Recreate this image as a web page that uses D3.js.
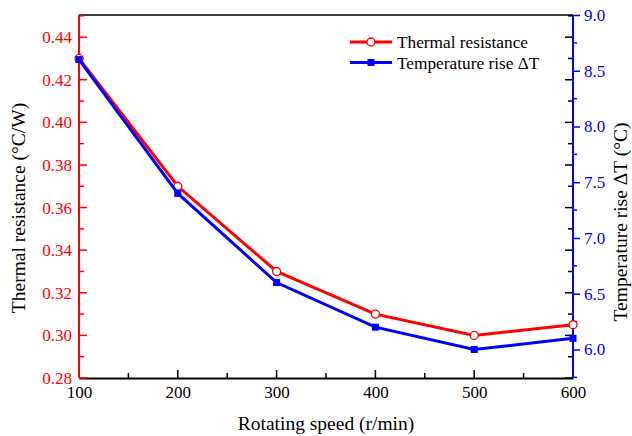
<!DOCTYPE html>
<html>
<head>
<meta charset="utf-8">
<script src="https://d3js.org/d3.v7.min.js"></script>
<style>
  body { margin: 0; background: #fff; }
  svg text { font-family: "Liberation Serif", "Times New Roman", serif; }
</style>
</head>
<body>
<svg id="chart" width="632" height="436"></svg>
<script>
const speeds = [100, 200, 300, 400, 500, 600];
const thermalResistance = [0.43, 0.37, 0.33, 0.31, 0.30, 0.305];
const tempRise = [8.6, 7.4, 6.6, 6.2, 6.0, 6.1];
const xTicks = [100, 200, 300, 400, 500, 600];
const leftTicks = [0.28, 0.30, 0.32, 0.34, 0.36, 0.38, 0.40, 0.42, 0.44];
const rightTicks = [6.0, 6.5, 7.0, 7.5, 8.0, 8.5, 9.0];

const margin = { left: 79, right: 59, top: 15, bottom: 58 };
const svg = d3.select('#chart');
const width = +svg.attr('width');
const height = +svg.attr('height');
const innerWidth = width - margin.left - margin.right;
const innerHeight = height - margin.top - margin.bottom;

const red = '#ff0000';
const blue = '#0000ff';

const x = d3.scaleLinear().domain([100, 600]).range([0, innerWidth]);
const yL = d3.scaleLinear().domain([0.28, 0.4504]).range([innerHeight, 0]);
const yR = d3.scaleLinear().domain([5.744, 9.0]).range([innerHeight, 0]);

const g = svg.append('g').attr('transform', `translate(${margin.left},${margin.top})`);

// frame top
g.append('line').attr('x1', 0).attr('x2', innerWidth).attr('y1', 0).attr('y2', 0)
  .attr('stroke', '#000').attr('stroke-width', 1.5);

// bottom axis, ticks inward
const minorX = d3.range(150, 600, 100);
const xAxisG = g.append('g').attr('transform', `translate(0,${innerHeight})`);
xAxisG.call(d3.axisBottom(x).tickValues(xTicks).tickSize(0).tickPadding(8).tickFormat(d3.format('d')));
xAxisG.select('.domain').attr('stroke', '#000').attr('stroke-width', 2);
xAxisG.selectAll('.tick text').attr('font-size', 17).attr('fill', '#000');
xAxisG.selectAll('.major').data(xTicks).enter().append('line')
  .attr('x1', d => x(d)).attr('x2', d => x(d)).attr('y1', 0).attr('y2', -8)
  .attr('stroke', '#000').attr('stroke-width', 1.5);
xAxisG.selectAll('.minor').data(minorX).enter().append('line')
  .attr('x1', d => x(d)).attr('x2', d => x(d)).attr('y1', 0).attr('y2', -5)
  .attr('stroke', '#000').attr('stroke-width', 1.5);

// right axis: mirrored black inward ticks from left scale, blue outward ticks
const leftMinor = d3.range(0.29, 0.45, 0.02);
const rightMinor = d3.range(5.75, 9.0, 0.5);
const rG = g.append('g').attr('transform', `translate(${innerWidth},0)`);
rG.selectAll('.mj').data(leftTicks).enter().append('line')
  .attr('x1', 0).attr('x2', -8).attr('y1', d => yL(d)).attr('y2', d => yL(d))
  .attr('stroke', '#000').attr('stroke-width', 1.5);
rG.selectAll('.mn').data(leftMinor).enter().append('line')
  .attr('x1', 0).attr('x2', -5).attr('y1', d => yL(d)).attr('y2', d => yL(d))
  .attr('stroke', '#000').attr('stroke-width', 1.5);
rG.call(d3.axisRight(yR).tickValues(rightTicks).tickSize(7).tickPadding(4).tickFormat(d3.format('.1f')));
rG.select('.domain').attr('stroke', blue).attr('stroke-width', 2).attr('d', `M0,0V${innerHeight}`);
rG.selectAll('.tick line').attr('stroke', blue).attr('stroke-width', 1.5);
rG.selectAll('.tick text').attr('font-size', 17).attr('fill', blue);
rG.selectAll('.rmn').data(rightMinor).enter().append('line')
  .attr('x1', 0).attr('x2', 4).attr('y1', d => yR(d)).attr('y2', d => yR(d))
  .attr('stroke', blue).attr('stroke-width', 1.5);

// left axis, red, ticks inward
const lG = g.append('g');
lG.call(d3.axisLeft(yL).tickValues(leftTicks).tickSize(0).tickPadding(7).tickFormat(d3.format('.2f')));
lG.select('.domain').attr('stroke', red).attr('stroke-width', 2).attr('d', `M0,0V${innerHeight}`);
lG.selectAll('.tick text').attr('font-size', 17).attr('fill', red);
lG.selectAll('.mj').data(leftTicks).enter().append('line')
  .attr('x1', 0).attr('x2', 8).attr('y1', d => yL(d)).attr('y2', d => yL(d))
  .attr('stroke', red).attr('stroke-width', 1.5);
lG.selectAll('.mn').data(leftMinor).enter().append('line')
  .attr('x1', 0).attr('x2', 5).attr('y1', d => yL(d)).attr('y2', d => yL(d))
  .attr('stroke', red).attr('stroke-width', 1.5);

// series
const redData = speeds.map((s, i) => [s, thermalResistance[i]]);
const blueData = speeds.map((s, i) => [s, tempRise[i]]);

g.append('path').datum(redData)
  .attr('fill', 'none').attr('stroke', red).attr('stroke-width', 3)
  .attr('d', d3.line().x(d => x(d[0])).y(d => yL(d[1])));
g.selectAll('.rc').data(redData).enter().append('circle')
  .attr('cx', d => x(d[0])).attr('cy', d => yL(d[1])).attr('r', 4)
  .attr('fill', '#fff').attr('stroke', red).attr('stroke-width', 1.3);

g.append('path').datum(blueData)
  .attr('fill', 'none').attr('stroke', blue).attr('stroke-width', 3)
  .attr('d', d3.line().x(d => x(d[0])).y(d => yR(d[1])));
g.selectAll('.bs').data(blueData).enter().append('rect')
  .attr('x', d => x(d[0]) - 3.5).attr('y', d => yR(d[1]) - 3.5)
  .attr('width', 7).attr('height', 7).attr('fill', blue);

// axis titles
svg.append('text').attr('x', margin.left + innerWidth / 2).attr('y', 430)
  .attr('text-anchor', 'middle').attr('font-size', 19.5).text('Rotating speed (r/min)');
svg.append('text').attr('transform', 'translate(25,208) rotate(-90)')
  .attr('text-anchor', 'middle').attr('font-size', 19.5).text('Thermal resistance (°C/W)');
svg.append('text').attr('transform', 'translate(627,222) rotate(-90)')
  .attr('text-anchor', 'middle').attr('font-size', 19.5).text('Temperature rise ΔT (°C)');

// legend
const legend = [
  { label: 'Thermal resistance', color: red, marker: 'circle' },
  { label: 'Temperature rise ΔT', color: blue, marker: 'square' }
];
const lg = svg.append('g').attr('transform', 'translate(350,42)');
legend.forEach((d, i) => {
  const row = lg.append('g').attr('transform', `translate(0,${i * 20.5})`);
  row.append('line').attr('x1', 0).attr('x2', 42).attr('y1', 0).attr('y2', 0)
    .attr('stroke', d.color).attr('stroke-width', 3);
  if (d.marker === 'circle') {
    row.append('circle').attr('cx', 21).attr('cy', 0).attr('r', 4)
      .attr('fill', '#fff').attr('stroke', d.color).attr('stroke-width', 1.3);
  } else {
    row.append('rect').attr('x', 17.5).attr('y', -3.5).attr('width', 7).attr('height', 7)
      .attr('fill', d.color);
  }
  row.append('text').attr('x', 47).attr('y', 6).attr('font-size', 17.3).text(d.label);
});
</script>
</body>
</html>
